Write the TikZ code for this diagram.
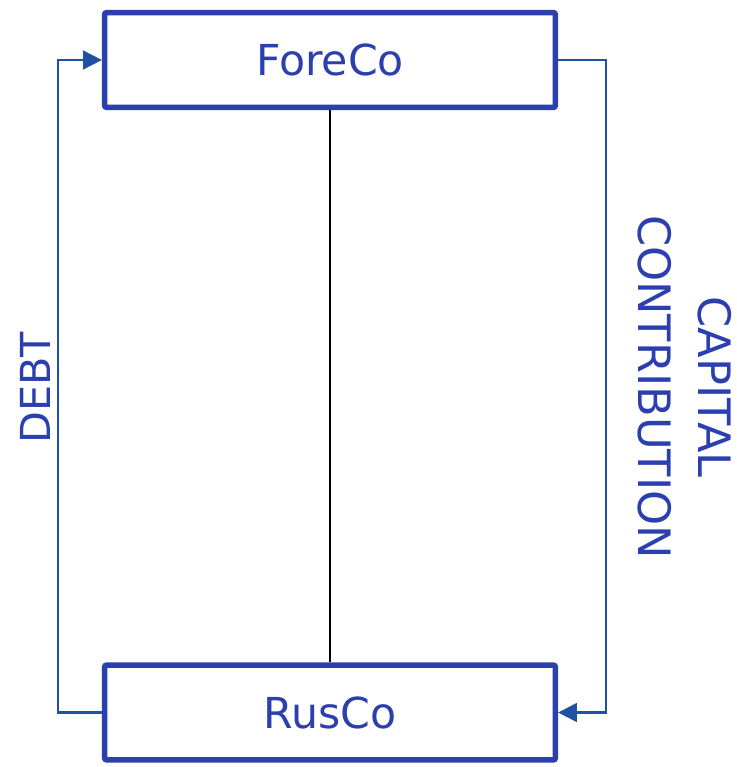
\documentclass[tikz,border=0pt]{standalone}
\usepackage{fontspec}
\setmainfont{DejaVu Sans}
\usetikzlibrary{arrows.meta, positioning}
\definecolor{boxblue}{HTML}{2B3FAE}
\definecolor{linkblue}{HTML}{1F52A3}
\tikzset{
  entity/.style={draw=boxblue, line width=4.2pt, rounded corners=1.5pt, minimum width=338pt, minimum height=71pt, text=boxblue, font=\fontsize{32}{38}\selectfont},
  flow/.style={draw=linkblue, line width=1.6pt, -{Triangle[length=14pt, width=14pt]}},
  flowlabel/.style={text=boxblue, font=\fontsize{31}{45}\selectfont, inner sep=0pt}
}
\begin{document}
\begin{tikzpicture}[x=0.75pt, y=-0.75pt]
        \useasboundingbox (0,0) rectangle (736,767);
        % Gesellschaften
        \node[entity] (foreco) at (330,60) {ForeCo};
        \node[entity] (rusco) at (330,712.5) {RusCo};
        % Verbindung
        \draw[black, line width=0.8pt] (foreco.south) -- (rusco.north);
        % Darlehen
        \draw[flow] (rusco.west) -- ++(-44,0) |- (foreco.west);
        \node[flowlabel, rotate=90] (debt) at (35,388) {DEBT};
        % Kapitaleinlage
        \draw[flow] (foreco.east) -- ++(48,0) |- (rusco.east);
        \node[flowlabel, rotate=-90, align=center, font=\fontsize{33.5}{45}\selectfont] (capital) at (685,387) {CAPITAL\\CONTRIBUTION};
      \end{tikzpicture}
\end{document}
